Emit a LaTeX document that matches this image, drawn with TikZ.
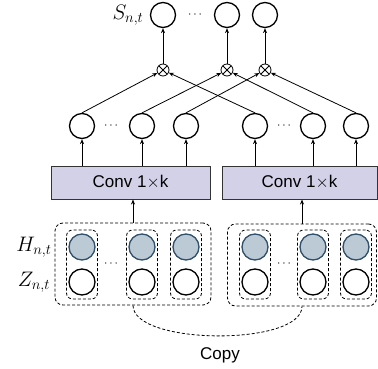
\RequirePackage{fix-cm}
\documentclass[tikz,border=0pt]{standalone}
\usepackage{fontspec}
\setmainfont{Liberation Sans}
\usetikzlibrary{arrows.meta}
\definecolor{hfill}{RGB}{188,202,214}
\definecolor{hline}{RGB}{47,79,107}
\definecolor{convfill}{RGB}{211,209,232}
\begin{document}
\begin{tikzpicture}[x=1pt,y=-1pt,
    >={Stealth[length=5pt,width=4pt]},
    unit/.style={circle,draw,line width=1.3pt,minimum size=25pt,inner sep=0pt},
    hunit/.style={unit,minimum size=26pt,fill=hfill,draw=hline},
    zunit/.style={unit,minimum size=26pt},
    mult/.style={circle,draw,line width=0.8pt,minimum size=12pt,inner sep=0pt,
      path picture={\draw[line width=0.8pt]
        (path picture bounding box.north west) -- (path picture bounding box.south east)
        (path picture bounding box.north east) -- (path picture bounding box.south west);}},
    conv/.style={draw=black!80,line width=1pt,fill=convfill,minimum height=33pt,
      inner sep=0pt,font=\fontsize{17}{20}\selectfont},
    pair/.style={draw,dash pattern=on 3pt off 2pt,rounded corners=6pt,line width=0.8pt,
      inner sep=0pt,minimum width=31pt,minimum height=69pt},
    group/.style={draw,dash pattern=on 3pt off 2pt,rounded corners=8pt,line width=0.8pt,
      inner sep=0pt},
    lbl/.style={font=\fontsize{21}{24}\selectfont},
    dots/.style={font=\fontsize{12}{14}\selectfont}]
  \useasboundingbox (0,0) rectangle (378,369);
  % output layer
  \draw
    (163,15) node[unit] (s1){}
    (227,15) node[unit] (s2){}
    (265,15) node[unit] (s3){}
    (195,15) node[dots] (sd){$\cdots$}
    (128,15) node[lbl] (slbl){$S_{n,t}$};
  \draw
    (163,70) node[mult] (m1){}
    (227,70) node[mult] (m2){}
    (265,70) node[mult] (m3){};
  % conv outputs
  \draw
    (82,126) node[unit] (a1){}
    (142,126) node[unit] (a2){}
    (186,126) node[unit] (a3){}
    (255,126) node[unit] (b1){}
    (313,126) node[unit] (b2){}
    (356,126) node[unit] (b3){}
    (111,126) node[dots] (ad){$\cdots$}
    (284,126) node[dots] (bd){$\cdots$};
  \draw
    (130.5,182.5) node[conv,minimum width=159pt] (c1){Conv 1$\times$k}
    (299.5,182.5) node[conv,minimum width=155pt] (c2){Conv 1$\times$k};
  % inputs
  \draw
    (82,247) node[hunit] (h1){}
    (142,247) node[hunit] (h2){}
    (186,247) node[hunit] (h3){}
    (255,247) node[hunit] (h4){}
    (313,247) node[hunit] (h5){}
    (356,247) node[hunit] (h6){}
    (82,282) node[zunit] (z1){}
    (142,282) node[zunit] (z2){}
    (186,282) node[zunit] (z3){}
    (255,282) node[zunit] (z4){}
    (313,282) node[zunit] (z5){}
    (356,282) node[zunit] (z6){}
    (111,264) node[dots] (hd1){$\cdots$}
    (284,264) node[dots] (hd2){$\cdots$}
    (34,247) node[lbl] (hlbl){$H_{n,t}$}
    (34,282) node[lbl] (zlbl){$Z_{n,t}$};
  \draw
    (82,264.5) node[pair] (p1){}
    (142,264.5) node[pair] (p2){}
    (186,264.5) node[pair] (p3){}
    (255,264.5) node[pair] (p4){}
    (313,264.5) node[pair] (p5){}
    (356,264.5) node[pair] (p6){};
  \node[group,minimum width=156pt,minimum height=82pt] (g1) at (133,264){};
  \node[group,minimum width=149pt,minimum height=82pt] (g2) at (302,265){};
  \node[font=\fontsize{17}{20}\selectfont] (copy) at (220,355){Copy};
  \begin{scope}[->,line width=0.8pt]
    \draw (m1) to (s1);
    \draw (m2) to (s2);
    \draw (m3) to (s3);
    \draw (a1.north) to (m1);
    \draw (a2.north) to (m2);
    \draw (a3.north) to (m3);
    \draw (b1.north) to (m1);
    \draw (b2.north) to (m2);
    \draw (b3.north) to (m3);
    \draw (c1.north -| a1) to (a1);
    \draw (c1.north -| a2) to (a2);
    \draw (c1.north -| a3) to (a3);
    \draw (c2.north -| b1) to (b1);
    \draw (c2.north -| b2) to (b2);
    \draw (c2.north -| b3) to (b3);
    \draw (g1.north) to (g1.north |- c1.south);
    \draw (g2.north) to (g2.north |- c2.south);
  \end{scope}
  \draw[dash pattern=on 3pt off 2pt,line width=0.8pt]
    (g1.south) .. controls +(0,40) and +(0,40) .. (g2.south);
\end{tikzpicture}
\end{document}
